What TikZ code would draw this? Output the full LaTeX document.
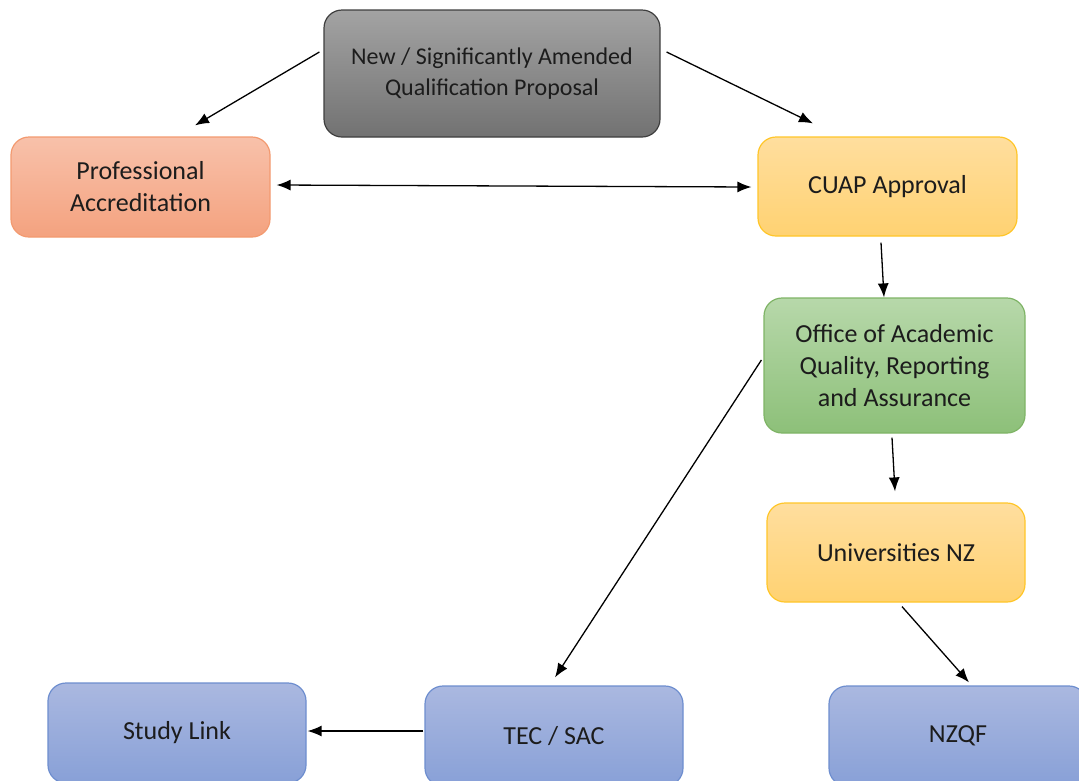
\documentclass[tikz,border=0pt]{standalone}
\usepackage{fontspec}
\setmainfont{Carlito}
\usetikzlibrary{arrows.meta}

\definecolor{txt}{HTML}{1C1C1C}
\definecolor{grayT}{HTML}{A3A3A3}
\definecolor{grayB}{HTML}{727272}
\definecolor{grayD}{HTML}{3F3F3F}
\definecolor{orT}{HTML}{F8C1AA}
\definecolor{orB}{HTML}{F4A27F}
\definecolor{orD}{HTML}{F39A70}
\definecolor{yeT}{HTML}{FFDE9E}
\definecolor{yeB}{HTML}{FFD272}
\definecolor{yeD}{HTML}{FFC629}
\definecolor{grT}{HTML}{B7D8AA}
\definecolor{grB}{HTML}{8DC079}
\definecolor{grD}{HTML}{7FB466}
\definecolor{blT}{HTML}{AAB8E0}
\definecolor{blB}{HTML}{88A0D7}
\definecolor{blD}{HTML}{6E8ECF}

\begin{document}
\begin{tikzpicture}[x=1pt,y=-1pt,
  box/.style={rounded corners=18pt, line width=1.2pt, inner sep=0pt,
    align=center, text=txt, font=\fontsize{26}{32}\selectfont},
  graybox/.style={box, draw=grayD, top color=grayT, bottom color=grayB,
    font=\fontsize{24}{31}\selectfont},
  orbox/.style={box, draw=orD, top color=orT, bottom color=orB},
  yebox/.style={box, draw=yeD, top color=yeT, bottom color=yeB},
  grbox/.style={box, draw=grD, top color=grT, bottom color=grB},
  blbox/.style={box, draw=blD, top color=blT, bottom color=blB},
  arr/.style={line width=1.3pt, -{Latex[length=14pt,width=11pt]}},
  darr/.style={line width=1.3pt, {Latex[length=14pt,width=11pt]}-{Latex[length=14pt,width=11pt]}}]

\clip (0,0) rectangle (1079,780);
\fill[white] (0,0) rectangle (1079,780);

%proposal
\node[graybox, minimum width=336pt, minimum height=127pt] (prop) at (492,73.5)
  {New / Significantly Amended\\Qualification Proposal};

%first row
\node[orbox, minimum width=259pt, minimum height=100pt] (prof) at (140.5,187)
  {Professional\\Accreditation};
\node[yebox, minimum width=259pt, minimum height=99pt] (cuap) at (887.5,186.5)
  {CUAP Approval};

%middle
\node[grbox, minimum width=261pt, minimum height=135pt] (oaq) at (894.5,365.5)
  {Office of Academic\\Quality, Reporting\\and Assurance};
\node[yebox, minimum width=258pt, minimum height=99pt] (unz) at (896,552.5)
  {Universities NZ};

%bottom row
\node[blbox, minimum width=258pt, minimum height=100pt] (slink) at (177,733)
  {Study Link};
\node[blbox, minimum width=258pt, minimum height=100pt] (tec) at (554,736)
  {TEC / SAC};
\node[blbox, minimum width=258pt, minimum height=100pt] (nzqf) at (958,736)
  {NZQF};

% connections
\draw[arr] ([shift={(-4,-21.5)}]prop.west) -- ([shift={(54.5,-11)}]prof.north);
\draw[arr] ([shift={(6,-21.5)}]prop.east) -- ([shift={(-74.5,-13)}]cuap.north);
\draw[darr] ([shift={(6,-2)}]prof.east) -- ([shift={(-6,0.5)}]cuap.west);
\draw[arr] ([shift={(-6.5,6)}]cuap.south) -- ([shift={(-10.5,0)}]oaq.north);
\draw[arr] ([shift={(-2,-5.5)}]oaq.west) -- ([shift={(1,-8)}]tec.north);
\draw[arr] ([shift={(-2.5,4)}]oaq.south) -- ([shift={(-1,-11)}]unz.north);
\draw[arr] ([shift={(6,4)}]unz.south) -- ([shift={(11,-3)}]nzqf.north);
\draw[arr] ([shift={(-1,-5)}]tec.west) -- ([shift={(1,-2)}]slink.east);

\end{tikzpicture}
\end{document}
